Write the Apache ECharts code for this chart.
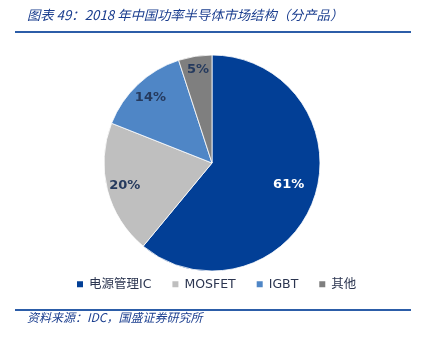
<!DOCTYPE html>
<html>
<head>
<meta charset="utf-8">
<script src="https://cdn.jsdelivr.net/npm/echarts@6/dist/echarts.min.js"></script>
<style>
html,body{margin:0;padding:0;background:#fff;}
#chart{width:425px;height:339px;}
</style>
</head>
<body>
<div id="chart"></div>
<script>
// 2018 China power semiconductor market share by product
const categories = ['电源管理IC', 'MOSFET', 'IGBT', '其他'];
const shares = [61, 20, 14, 5];
const sliceColors = ['#023F96', '#BFBFBF', '#4F86C6', '#7F7F7F'];
const labelColors = ['#FFFFFF', '#253A5E', '#253A5E', '#253A5E'];

const titleText = '图表 49：2018 年中国功率半导体市场结构（分产品）';
const sourceText = '资料来源：IDC，国盛证券研究所';

const chart = echarts.init(document.getElementById('chart'), null, {renderer: 'canvas'});

const pieData = categories.map((name, i) => ({
  name: name,
  value: shares[i],
  itemStyle: {color: sliceColors[i]}
}));

const labelData = categories.map((name, i) => ({
  name: name,
  value: shares[i],
  label: {color: labelColors[i]}
}));
// pull the large-slice label a little toward the centre
labelData[0].label.offset = [-8, -9];
labelData[3].label.offset = [0, -4];

chart.setOption({
  animation: false,
  legend: {
    data: categories,
    left: 70,
    top: 273,
    icon: 'rect',
    itemWidth: 8,
    itemHeight: 8,
    itemGap: 19,
    textStyle: {fontSize: 12.5, color: '#2B3550', fontFamily: 'DejaVu Sans, "Noto Sans CJK SC"'}
  },
  graphic: [
    {type: 'text', left: 27, top: 8, style: {text: titleText, font: 'italic 13.3px "Noto Sans CJK SC", sans-serif', fill: '#1B3E8F'}},
    {type: 'line', shape: {x1: 15, y1: 32, x2: 411, y2: 32}, style: {stroke: '#2C5DA8', lineWidth: 2}},
    {type: 'line', shape: {x1: 15, y1: 310, x2: 411, y2: 310}, style: {stroke: '#2C5DA8', lineWidth: 2}},
    {type: 'text', left: 27, top: 311, style: {text: sourceText, font: 'italic 12px "Noto Sans CJK SC", sans-serif', fill: '#1B3E8F'}}
  ],
  series: [
    {
      type: 'pie',
      center: [212, 163],
      radius: [0, 108],
      startAngle: 90,
      clockwise: true,
      silent: true,
      label: {show: false},
      labelLine: {show: false},
      itemStyle: {borderColor: '#ffffff', borderWidth: 0.8},
      data: pieData
    },
    {
      type: 'pie',
      center: [212, 163],
      radius: [66, 108],
      startAngle: 90,
      clockwise: true,
      silent: true,
      itemStyle: {color: 'rgba(0,0,0,0)'},
      label: {
        show: true,
        position: 'inside',
        formatter: '{c}%',
        fontSize: 13,
        fontWeight: 'bold',
        fontFamily: 'DejaVu Sans'
      },
      labelLine: {show: false},
      data: labelData
    }
  ]
});
</script>
</body>
</html>
